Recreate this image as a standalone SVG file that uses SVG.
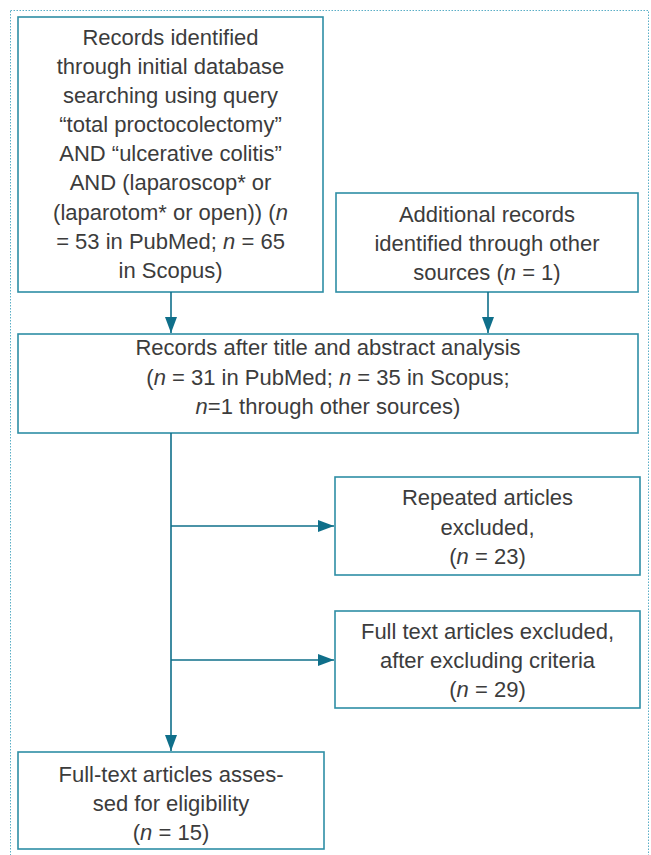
<svg xmlns="http://www.w3.org/2000/svg" width="651" height="855" viewBox="0 0 651 855">
<style>
.box{fill:#fff;stroke:#2e8ea5;stroke-width:1.6}
.t{font-family:"Liberation Sans",Arial,sans-serif;font-size:22px;fill:#3c3c3c;text-anchor:middle}
.i{font-style:italic}
.c{fill:none;stroke:#0f6f8a;stroke-width:1.6}
</style>
<defs>
<marker id="ah" markerWidth="16" markerHeight="12" refX="16" refY="6" orient="auto" markerUnits="userSpaceOnUse">
<path d="M0,0 L16,6 L0,12 Z" fill="#0f6f8a"/>
</marker>
</defs>
<rect x="10.5" y="10.5" width="638" height="860" fill="none" stroke="#5aaec6" stroke-width="1" stroke-dasharray="1.5,1.5"/>
<g id="n1">
<rect class="box" x="18" y="17" width="305" height="275"/>
<text class="t"><tspan x="170.5" y="45">Records identified</tspan><tspan x="170.5" y="74">through initial database</tspan><tspan x="170.5" y="103">searching using query</tspan><tspan x="170.5" y="132">“total proctocolectomy”</tspan><tspan x="170.5" y="161">AND “ulcerative colitis”</tspan><tspan x="170.5" y="190">AND (laparoscop* or</tspan><tspan x="170.5" y="219.5">(laparotom* or open)) (<tspan class="i">n</tspan></tspan><tspan x="170.5" y="248.5">= 53 in PubMed; <tspan class="i">n</tspan> = 65</tspan><tspan x="170.5" y="278">in Scopus)</tspan></text>
</g>
<g id="n2">
<rect class="box" x="336" y="193" width="302" height="99"/>
<text class="t"><tspan x="487" y="222">Additional records</tspan><tspan x="487" y="251">identified through other</tspan><tspan x="487" y="280">sources (<tspan class="i">n</tspan> = 1)</tspan></text>
</g>
<g id="n3">
<rect class="box" x="18" y="334" width="620" height="99"/>
<text class="t"><tspan x="328" y="355">Records after title and abstract analysis</tspan><tspan x="328" y="385">(<tspan class="i">n</tspan> = 31 in PubMed; <tspan class="i">n</tspan> = 35 in Scopus;</tspan><tspan x="328" y="414"><tspan class="i">n</tspan>=1 through other sources)</tspan></text>
</g>
<g id="n4">
<rect class="box" x="335" y="477" width="305" height="98"/>
<text class="t"><tspan x="487.5" y="505">Repeated articles</tspan><tspan x="487.5" y="535">excluded,</tspan><tspan x="487.5" y="564">(<tspan class="i">n</tspan> = 23)</tspan></text>
</g>
<g id="n5">
<rect class="box" x="335" y="611" width="305" height="97"/>
<text class="t"><tspan x="487.5" y="639">Full text articles excluded,</tspan><tspan x="487.5" y="668">after excluding criteria</tspan><tspan x="487.5" y="697">(<tspan class="i">n</tspan> = 29)</tspan></text>
</g>
<g id="n6">
<rect class="box" x="18" y="752" width="306" height="97"/>
<text class="t"><tspan x="171" y="782">Full-text articles asses-</tspan><tspan x="171" y="811">sed for eligibility</tspan><tspan x="171" y="840">(<tspan class="i">n</tspan> = 15)</tspan></text>
</g>
<g id="connectors">
<line class="c" x1="171" y1="292" x2="171" y2="333" marker-end="url(#ah)"/>
<line class="c" x1="488" y1="292" x2="488" y2="333" marker-end="url(#ah)"/>
<line class="c" x1="171" y1="433" x2="171" y2="751" marker-end="url(#ah)"/>
<line class="c" x1="171" y1="526" x2="334" y2="526" marker-end="url(#ah)"/>
<line class="c" x1="171" y1="660" x2="334" y2="660" marker-end="url(#ah)"/>
</g>
</svg>
